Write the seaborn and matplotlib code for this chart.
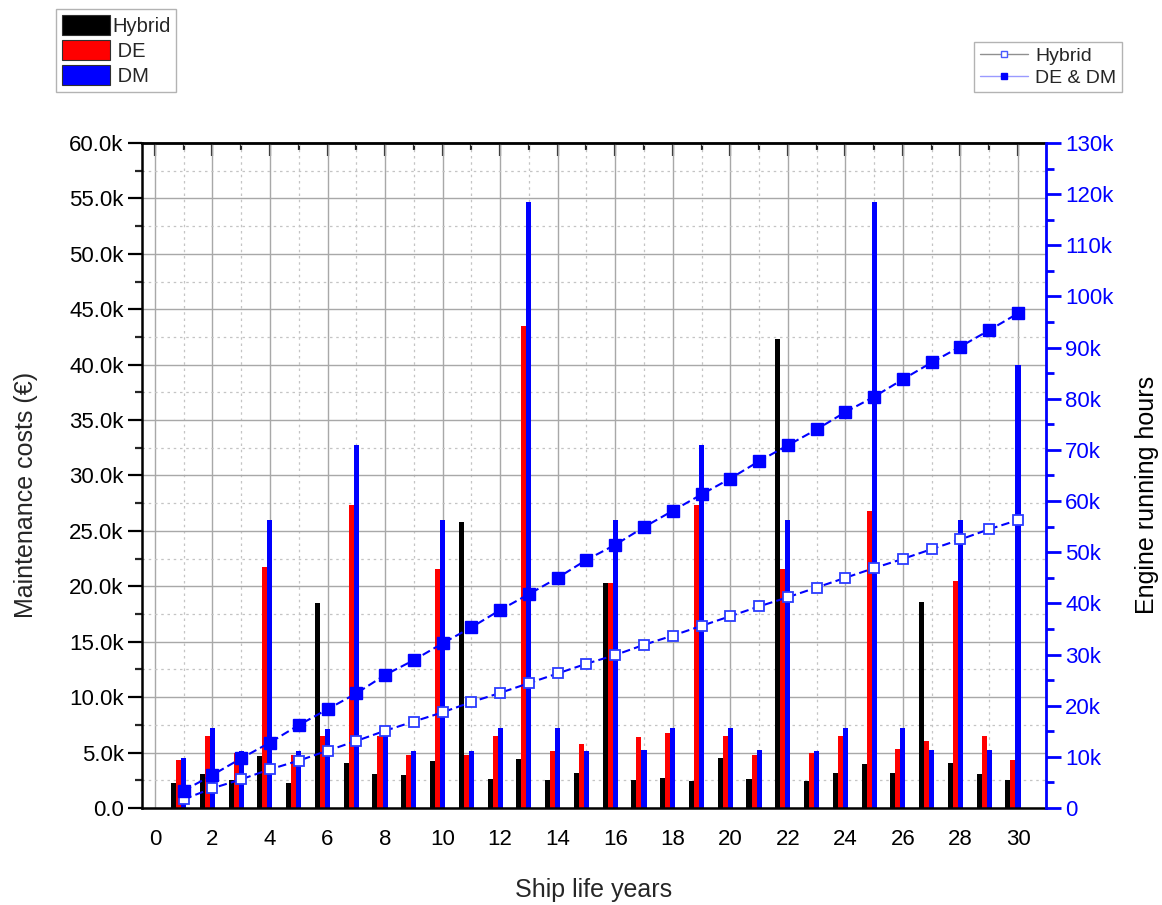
import numpy as np
import pandas as pd
import matplotlib
matplotlib.use("Agg")
import matplotlib.pyplot as plt
import seaborn as sns
from matplotlib.ticker import MultipleLocator, FuncFormatter
from matplotlib.patches import Patch
from matplotlib.lines import Line2D

# ---------------- data ----------------
years = list(range(1, 31))

# maintenance costs (EUR)
hybrid_cost = [2280, 3040, 2530, 4720, 2280, 18500, 4030, 3050, 2950, 4210,
               25800, 2590, 4420, 2530, 3130, 20300, 2500, 2740, 2400, 4480,
               2590, 42300, 2400, 3130, 3940, 3130, 18560, 4030, 3040, 2530]
de_cost = [4330, 6500, 4940, 21700, 4780, 6500, 27300, 6500, 4750, 21600,
           4780, 6500, 43500, 5140, 5770, 20300, 6430, 6740, 27300, 6470,
           4750, 21600, 4930, 6500, 26800, 5300, 6050, 20450, 6470, 4330]
dm_cost = [4540, 7250, 5140, 26000, 5170, 7160, 32750, 7200, 5170, 26000,
           5140, 7250, 54700, 7250, 5170, 26000, 5200, 7190, 32750, 7250,
           5200, 26000, 5140, 7250, 54700, 7250, 5200, 26000, 5200, 40000]

# engine running hours
hybrid_hours = [1700, 3850, 5600, 7560, 9250, 11200, 13100, 15100, 16900, 18700,
                20700, 22500, 24400, 26300, 28200, 29900, 31900, 33700, 35600, 37500,
                39400, 41200, 43100, 45000, 46900, 48700, 50600, 52500, 54500, 56300]
dedm_hours = [3380, 6450, 9700, 12800, 16200, 19300, 22400, 26000, 28900, 32200,
              35300, 38700, 41800, 45000, 48500, 51450, 54900, 58100, 61300, 64400,
              67800, 70900, 74000, 77400, 80400, 83800, 87100, 90200, 93400, 96700]

bar_series = ["Hybrid", "DE", "DM"]
bar_colors = {"Hybrid": "#000000", "DE": "#ff0000", "DM": "#0000ff"}

df = pd.DataFrame({
    "year": years * 3,
    "cost": hybrid_cost + de_cost + dm_cost,
    "type": ["Hybrid"] * 30 + ["DE"] * 30 + ["DM"] * 30,
})

# ---------------- style ----------------
sns.set_style("white")
plt.rcParams["font.family"] = ["Liberation Sans", "DejaVu Sans"]

fig = plt.figure(figsize=(11.62, 9.05), dpi=100)
ax = fig.add_axes([0.1219, 0.1072, 0.7782, 0.7348])

# bars: three per year, DM centred on the year, the other two to its left
bar_w = 0.175
df["xpos"] = df["year"] - bar_w
sns.barplot(data=df, x="xpos", y="cost", hue="type", hue_order=bar_series,
            palette=bar_colors, native_scale=True, orient="x",
            width=3 * bar_w, gap=0, dodge=True, saturation=1,
            errorbar=None, linewidth=0, legend=False, ax=ax, zorder=2)

ax.set_xlim(-0.46, 30.97)
ax.set_ylim(0, 60000)
ax.xaxis.set_major_locator(MultipleLocator(2))
ax.xaxis.set_minor_locator(MultipleLocator(1))
ax.yaxis.set_major_locator(MultipleLocator(5000))
ax.yaxis.set_minor_locator(MultipleLocator(2500))
ax.xaxis.set_major_formatter(FuncFormatter(lambda v, p: f"{int(round(v))}"))
ax.yaxis.set_major_formatter(FuncFormatter(
    lambda v, p: "0.0" if v == 0 else f"{v/1000:.1f}k"))

ax.set_axisbelow(True)
ax.grid(which="major", color="#a8a8a8", linewidth=1.0, linestyle="-")
ax.grid(which="minor", color="#c4c4c4", linewidth=0.9, linestyle=(0, (2, 3)))

for side in ["left", "bottom", "top"]:
    ax.spines[side].set_color("black")
    ax.spines[side].set_linewidth(1.8)
ax.spines["right"].set_visible(False)

ax.tick_params(axis="both", which="major", labelsize=16, colors="black")
ax.tick_params(axis="x", which="major", direction="out", length=10, width=1.6, pad=5)
ax.tick_params(axis="x", which="minor", direction="out", length=6, width=1.6)
ax.tick_params(axis="y", which="major", direction="out", length=10, width=1.6, pad=3)
ax.tick_params(axis="y", which="minor", direction="out", length=5, width=1.6)

# top spine ticks (inward)
secx = ax.secondary_xaxis("top")
secx.xaxis.set_major_locator(MultipleLocator(2))
secx.xaxis.set_minor_locator(MultipleLocator(1))
secx.tick_params(which="major", direction="in", length=9, width=1.6, labeltop=False)
secx.tick_params(which="minor", direction="in", length=5, width=1.6)
secx.spines["top"].set_linewidth(1.8)

ax.set_xlabel("Ship life years", fontsize=18)
ax.set_ylabel("Maintenance costs (€)", fontsize=18)
ax.xaxis.set_label_coords(0.5, -0.105)
ax.yaxis.set_label_coords(-0.115, 0.47)

# right axis with running hours lines
ax2 = ax.twinx()
sns.lineplot(x=years, y=hybrid_hours, ax=ax2, color="#0000ff",
             linestyle=(0, (4, 2)), linewidth=1.5, marker="s", markersize=7.5,
             markerfacecolor="white", markeredgecolor="#2b3cff",
             markeredgewidth=1.3, zorder=4)
sns.lineplot(x=years, y=dedm_hours, ax=ax2, color="#0000ff",
             linestyle=(0, (4, 2)), linewidth=1.5, marker="s", markersize=8.5,
             markerfacecolor="#0000ff", markeredgecolor="#0000ff",
             markeredgewidth=1.0, zorder=4)

ax2.set_ylim(0, 130000)
ax2.yaxis.set_major_locator(MultipleLocator(10000))
ax2.yaxis.set_minor_locator(MultipleLocator(5000))
ax2.yaxis.set_major_formatter(FuncFormatter(
    lambda v, p: "0" if v == 0 else f"{v/1000:.0f}k"))
for side in ["left", "bottom", "top"]:
    ax2.spines[side].set_visible(False)
ax2.spines["right"].set_color("#0000ff")
ax2.spines["right"].set_linewidth(2.0)
ax2.tick_params(axis="y", which="major", direction="out", length=11, width=2.0,
                colors="#0000ff", labelcolor="#0000ff", labelsize=16, pad=3)
ax2.tick_params(axis="y", which="minor", direction="out", length=5.5, width=2.0,
                colors="#0000ff")
ax2.set_ylabel("Engine running hours", fontsize=18, color="black")
ax2.yaxis.set_label_coords(1.098, 0.47)
ax2.grid(False)
ax2.set_xlim(ax.get_xlim())

# legends
bar_handles = [Patch(facecolor=bar_colors[s], edgecolor="#303030", linewidth=0.8)
               for s in bar_series]
leg1 = fig.legend(bar_handles, ["Hybrid", " DE", " DM"], loc="upper left",
                  bbox_to_anchor=(0.0479, 0.990), fontsize=14.5, frameon=True,
                  fancybox=False, edgecolor="#a0a0a0", handlelength=2.4,
                  handleheight=1.15, handletextpad=0.1, labelspacing=0.2,
                  borderpad=0.3, borderaxespad=0)
leg1.get_frame().set_linewidth(1.0)

line_handles = [
    Line2D([0], [0], color="#909090", linewidth=1.0, marker="s", markersize=5,
           markerfacecolor="white", markeredgecolor="#4a5aff"),
    Line2D([0], [0], color="#9a9aff", linewidth=1.0, marker="s", markersize=5,
           markerfacecolor="#0000ff", markeredgecolor="#0000ff"),
]
leg2 = fig.legend(line_handles, ["Hybrid", "DE & DM"], loc="upper left",
                  bbox_to_anchor=(0.8382, 0.9539), fontsize=14, frameon=True,
                  fancybox=False, edgecolor="#a0a0a0", handlelength=2.5,
                  handletextpad=0.35, labelspacing=0.2, borderpad=0.3,
                  borderaxespad=0)
leg2.get_frame().set_linewidth(1.0)

fig.savefig("out.png", dpi=100)
